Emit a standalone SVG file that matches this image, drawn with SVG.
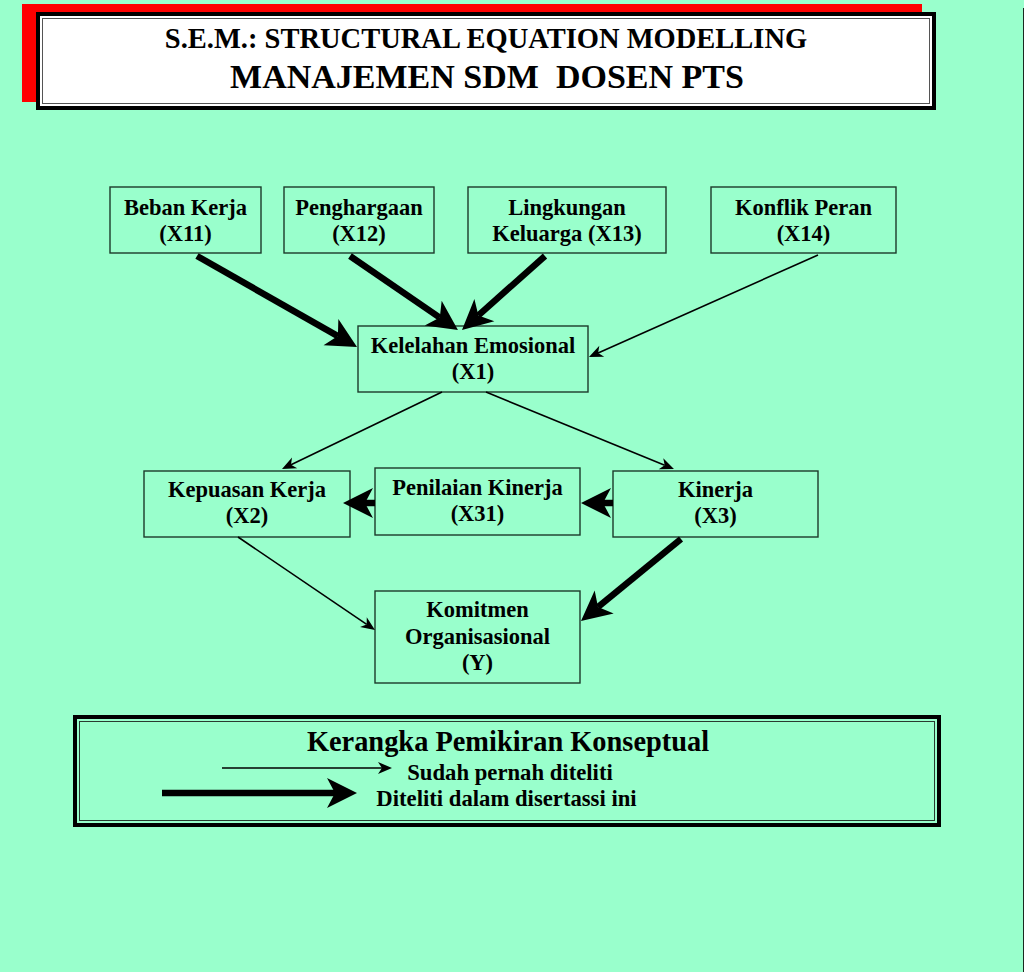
<svg xmlns="http://www.w3.org/2000/svg" width="1024" height="972" viewBox="0 0 1024 972">
<style>
.node rect{fill:none;stroke:#1c3a2a;stroke-width:1.4}
.node text,.t{font-family:"Liberation Serif","Times New Roman",serif;font-weight:bold;fill:#000;text-anchor:middle}
.node text{font-size:22.5px}
.thick{stroke:#000;stroke-width:6.5;fill:none}
.thin{stroke:#000;stroke-width:1.6;fill:none}
</style>
<defs>
<marker id="hb" markerUnits="userSpaceOnUse" viewBox="-10 -17 34 34" markerWidth="34" markerHeight="34" refX="0" refY="0" orient="auto">
<path d="M-8,-15 L22,0 L-8,15 L0,0 Z" fill="#000"/>
</marker>
<marker id="hs" markerUnits="userSpaceOnUse" viewBox="-6 -8 18 16" markerWidth="18" markerHeight="16" refX="0" refY="0" orient="auto">
<path d="M-4,-6 L10,0 L-4,6 L0,0 Z" fill="#000"/>
</marker>
</defs>
<rect x="0" y="0" width="1024" height="972" fill="#99FFCC"/>
<line x1="1023.5" y1="8" x2="1023.5" y2="972" stroke="#1a2a20" stroke-width="1"/>
<g id="title">
<rect x="22" y="4" width="900" height="98" fill="#FF0000"/>
<rect x="36" y="12" width="900" height="98" fill="#000"/>
<rect x="40" y="16" width="892" height="90" fill="#FFF"/>
<rect x="42.5" y="18.5" width="887" height="85" fill="none" stroke="#555" stroke-width="1"/>
<text class="t" x="486" y="48" font-size="28.5">S.E.M.: STRUCTURAL EQUATION MODELLING</text>
<text class="t" x="487" y="88" font-size="34" style="white-space:pre">MANAJEMEN SDM  DOSEN PTS</text>
</g>
<g id="n-x11" class="node"><rect x="110" y="187" width="151" height="66"/><text x="185.5" y="215">Beban Kerja</text><text x="185.5" y="241">(X11)</text></g>
<g id="n-x12" class="node"><rect x="284" y="187" width="150" height="66"/><text x="359" y="215">Penghargaan</text><text x="359" y="241">(X12)</text></g>
<g id="n-x13" class="node"><rect x="468" y="187" width="198" height="66"/><text x="567" y="215">Lingkungan</text><text x="567" y="241">Keluarga (X13)</text></g>
<g id="n-x14" class="node"><rect x="711" y="187" width="185" height="66"/><text x="803.5" y="215">Konflik Peran</text><text x="803.5" y="241">(X14)</text></g>
<g id="n-x1" class="node"><rect x="358" y="326" width="230" height="66"/><text x="473" y="353">Kelelahan Emosional</text><text x="473" y="379">(X1)</text></g>
<g id="n-x2" class="node"><rect x="144" y="471" width="206" height="66"/><text x="247" y="497">Kepuasan Kerja</text><text x="247" y="523">(X2)</text></g>
<g id="n-x31" class="node"><rect x="375" y="468" width="205" height="67"/><text x="477.5" y="495">Penilaian Kinerja</text><text x="477.5" y="521">(X31)</text></g>
<g id="n-x3" class="node"><rect x="613" y="471" width="205" height="66"/><text x="715.5" y="497">Kinerja</text><text x="715.5" y="523">(X3)</text></g>
<g id="n-y" class="node"><rect x="375" y="591" width="205" height="92"/><text x="477.5" y="617">Komitmen</text><text x="477.5" y="644">Organisasional</text><text x="477.5" y="670">(Y)</text></g>
<g id="connectors">
<line class="thick" x1="197" y1="256" x2="337.9" y2="336.1" marker-end="url(#hb)"/>
<line class="thick" x1="350" y1="256" x2="439.8" y2="317.6" marker-end="url(#hb)"/>
<line class="thick" x1="545" y1="256" x2="478.4" y2="315.4" marker-end="url(#hb)"/>
<line class="thin" x1="818" y1="255" x2="598.1" y2="352.9" marker-end="url(#hs)"/>
<line class="thin" x1="442" y1="392" x2="291" y2="464.7" marker-end="url(#hs)"/>
<line class="thin" x1="486" y1="392" x2="664.7" y2="465.2" marker-end="url(#hs)"/>
<line class="thick" x1="375" y1="503" x2="365" y2="503" marker-end="url(#hb)"/>
<line class="thick" x1="613" y1="503" x2="603" y2="503" marker-end="url(#hb)"/>
<line class="thin" x1="238" y1="537" x2="366.7" y2="624.4" marker-end="url(#hs)"/>
<line class="thick" x1="681" y1="539" x2="598" y2="607.1" marker-end="url(#hb)"/>
</g>
<g id="legend">
<rect x="75" y="717" width="864" height="108" fill="none" stroke="#000" stroke-width="4"/>
<rect x="79.5" y="721.5" width="855" height="99" fill="none" stroke="#2a3a30" stroke-width="1"/>
<text class="t" x="508" y="751" font-size="28.4">Kerangka Pemikiran Konseptual</text>
<line class="thin" x1="222" y1="768" x2="382" y2="768" marker-end="url(#hs)"/>
<text class="t" x="510" y="780" font-size="22.7">Sudah pernah diteliti</text>
<line class="thick" x1="162" y1="793" x2="335" y2="793" stroke-width="6" marker-end="url(#hb)"/>
<text class="t" x="506.5" y="806" font-size="22.7">Diteliti dalam disertassi ini</text>
</g>
</svg>
